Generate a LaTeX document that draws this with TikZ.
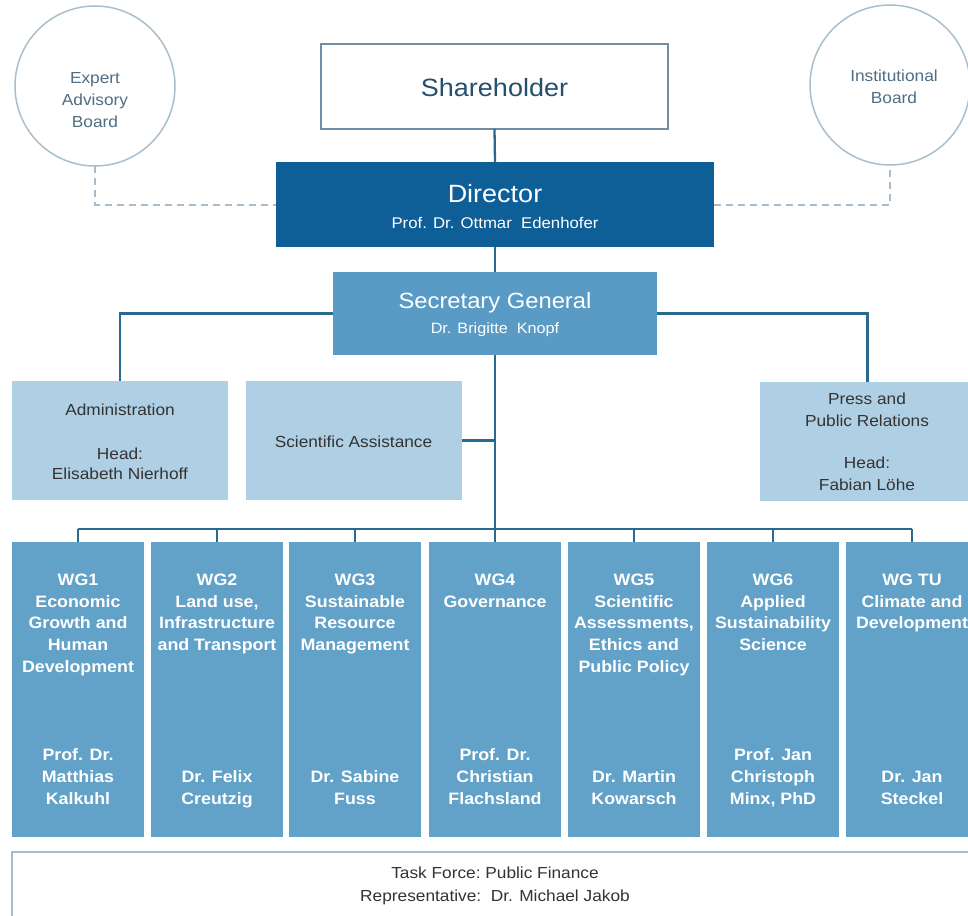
\documentclass[tikz,border=0pt]{standalone}
\usepackage{fontspec}
\setmainfont[FakeStretch=1.08]{Liberation Sans}
\definecolor{linec}{HTML}{2A6A90}
\definecolor{dirc}{HTML}{0E5E98}
\definecolor{secc}{HTML}{5A9BC6}
\definecolor{wgc}{HTML}{62A1C8}
\definecolor{lightc}{HTML}{AFD0E4}
\definecolor{circc}{HTML}{A9BFCD}
\definecolor{shbord}{HTML}{6E8FA5}
\definecolor{dashc}{HTML}{A8BCCB}
\definecolor{txtdark}{HTML}{333333}
\definecolor{txtblue}{HTML}{24506E}
\definecolor{circtxt}{HTML}{4F6E84}
\begin{document}
\begin{tikzpicture}[x=1pt,y=-1pt,
  every node/.style={inner sep=0pt,outer sep=0pt},
  conn/.style={draw=linec,line width=2.3pt},
  dashconn/.style={draw=dashc,line width=2pt,dash pattern=on 7pt off 5pt},
  board/.style={circle,draw=circc,line width=1.5pt,minimum size=160pt},
  boardtxt/.style={align=center,font=\fontsize{16}{22}\selectfont,text=circtxt},
  lightbox/.style={fill=lightc,minimum width=216pt,minimum height=119pt},
  lighttxt/.style={align=center,font=\fontsize{16}{20}\selectfont,text=txtdark},
  wgbox/.style={fill=wgc,minimum width=132pt,minimum height=295pt},
  wgtxt/.style={align=center,font=\fontsize{16.5}{21.7}\selectfont\bfseries,text=white},
  wgtitle/.style={wgtxt,anchor=north},
  wgname/.style={wgtxt,anchor=base}
]
\useasboundingbox (0,0) rectangle (968,915);
\fill[white] (0,0) rectangle (968,915);

% boards
\node[board] (expert) at (95,86) {};
\node[boardtxt] (expertt) at (95,100) {Expert\\Advisory\\Board};
\node[board] (inst) at (890,85) {};
\node[boardtxt] (instt) at (894,87) {Institutional\\Board};

% top boxes
\node[draw=shbord,line width=2.5pt,fill=white,minimum width=347pt,minimum height=85pt] (share) at (494.5,86.5) {};
\node[text=txtblue,font=\fontsize{25}{28}\selectfont] (sharet) at (494.5,88) {Shareholder};

\node[fill=dirc,minimum width=438pt,minimum height=85pt] (director) at (495,204.5) {};
\node[text=white,font=\fontsize{25}{28}\selectfont] (dirt) at (495,194) {Director};
\node[text=white,font=\fontsize{15.5}{18}\selectfont] (dirn) at (495,223) {Prof. Dr. Ottmar\ \ Edenhofer};

\node[fill=secc,minimum width=324pt,minimum height=83pt] (sec) at (495,313.5) {};
\node[text=white,font=\fontsize{22}{26}\selectfont] (sect) at (495,303) {Secretary General};
\node[text=white,font=\fontsize{15}{18}\selectfont] (secn) at (495,330) {Dr. Brigitte\ \ Knopf};

% staff boxes
\node[lightbox] (admin) at (120,440) {};
\node[lighttxt] (admint) at (120,442) {Administration\\[24pt]Head:\\Elisabeth Nierhoff};
\node[lightbox] (sa) at (353.5,440.5) {};
\node[lighttxt] (sat) at (353.5,442) {Scientific Assistance};
\node[lightbox] (press) at (867.5,441) {};
\node[lighttxt,font=\fontsize{16}{22}\selectfont] (presst) at (867,442) {Press and\\Public Relations\\[20pt]Head:\\Fabian Löhe};

% WG boxes
\node[wgbox] (wg1) at (78,689.5) {};
\node[wgbox] (wg2) at (217,689.5) {};
\node[wgbox] (wg3) at (355,689.5) {};
\node[wgbox] (wg4) at (495,689.5) {};
\node[wgbox] (wg5) at (634,689.5) {};
\node[wgbox] (wg6) at (773,689.5) {};
\node[wgbox] (wgtu) at (912,689.5) {};

\node[wgtitle] (wg1t) at (78,574) {WG1\\Economic\\Growth and\\Human\\Development};
\node[wgtitle] (wg2t) at (217,574) {WG2\\Land use,\\Infrastructure\\and Transport};
\node[wgtitle] (wg3t) at (355,574) {WG3\\Sustainable\\Resource\\Management};
\node[wgtitle] (wg4t) at (495,574) {WG4\\Governance};
\node[wgtitle] (wg5t) at (634,574) {WG5\\Scientific\\Assessments,\\Ethics and\\Public Policy};
\node[wgtitle] (wg6t) at (773,574) {WG6\\Applied\\Sustainability\\Science};
\node[wgtitle] (wgtut) at (912,574) {WG TU\\Climate and\\Development};

\node[wgname] (wg1n) at (78,804) {Prof. Dr.\\Matthias\\Kalkuhl};
\node[wgname] (wg2n) at (217,804) {Dr. Felix\\Creutzig};
\node[wgname] (wg3n) at (355,804) {Dr. Sabine\\Fuss};
\node[wgname] (wg4n) at (495,804) {Prof. Dr.\\Christian\\Flachsland};
\node[wgname] (wg5n) at (634,804) {Dr. Martin\\Kowarsch};
\node[wgname] (wg6n) at (773,804) {Prof. Jan\\Christoph\\Minx, PhD};
\node[wgname] (wgtun) at (912,804) {Dr. Jan\\Steckel};

% task force
\node[draw=dashc,line width=2pt,minimum width=980pt,minimum height=84pt] (tf) at (502,894) {};
\node[align=center,font=\fontsize{16}{23}\selectfont,text=txtdark] (tft) at (495,886) {Task Force:\ Public Finance\\Representative:\ \ Dr. Michael Jakob};

% connectors
\coordinate (bus) at (495,529);
\draw[conn] (share.south) -- (director.north);
\draw[conn] (director.south) -- (sec.north);
\draw[conn] (sec.south) -- (bus);
\draw[conn] (sec.west) -| (admin.north);
\draw[conn] (sec.east) -| (press.north);
\draw[conn] (sa.east) -- (sa.east -| bus);
\draw[conn] (wg1.north |- bus) -- (wgtu.north |- bus);
\foreach \w in {wg1,wg2,wg3,wg4,wg5,wg6,wgtu}{
  \draw[conn] (\w.north |- bus) -- (\w.north);
}
\draw[dashconn] (expert.south) |- (director.west);
\draw[dashconn] (director.east) -| (inst.south);
\end{tikzpicture}
\end{document}
